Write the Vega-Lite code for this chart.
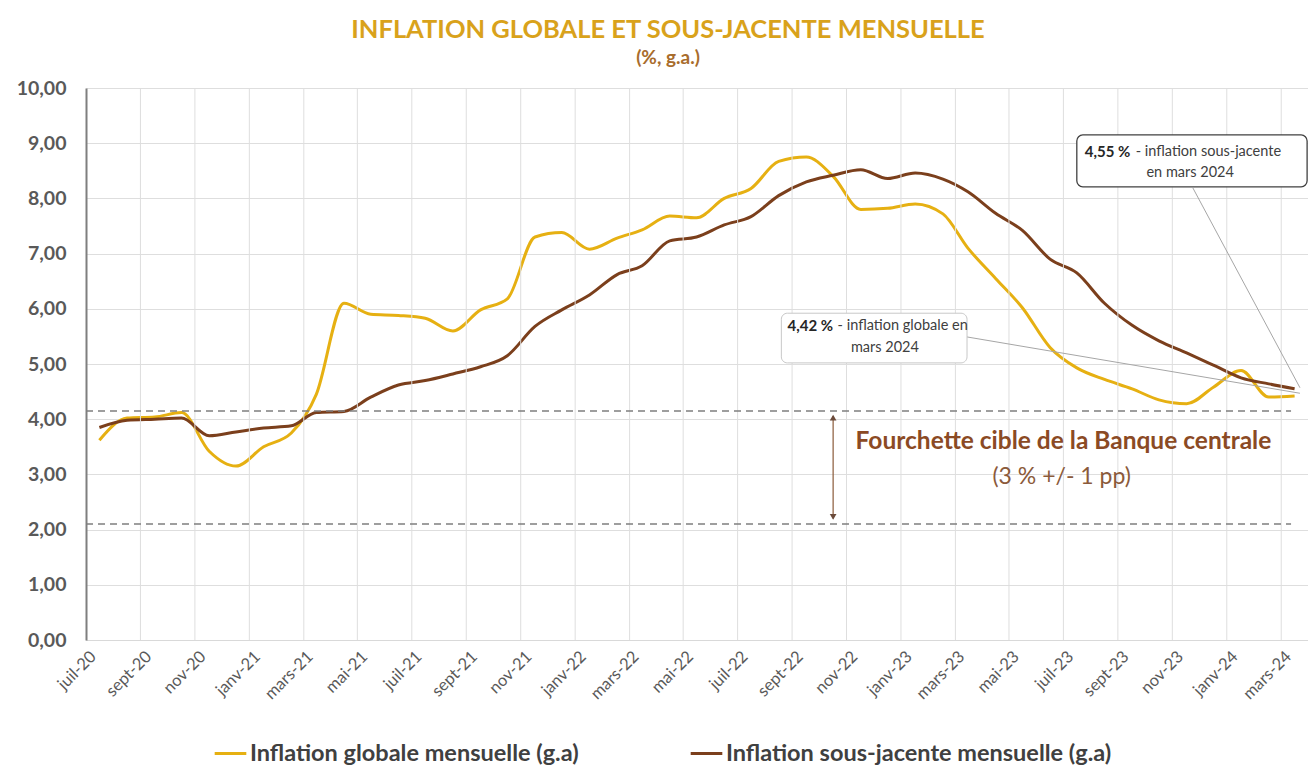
{
  "$schema": "https://vega.github.io/schema/vega-lite/v6.json",
  "width": 1222,
  "height": 552,
  "autosize": {"type": "none"},
  "padding": {"left": 86, "top": 88, "right": 0, "bottom": 129},
  "background": "white",
  "title": {
    "text": "INFLATION GLOBALE ET SOUS-JACENTE MENSUELLE",
    "subtitle": "(%, g.a.)",
    "anchor": "middle",
    "dx": -29,
    "offset": 10,
    "font": "Lato",
    "fontSize": 25.5,
    "fontWeight": "bold",
    "color": "#D9A21B",
    "subtitleFont": "Lato",
    "subtitleFontSize": 19,
    "subtitleFontWeight": "bold",
    "subtitleColor": "#A86C2C",
    "subtitlePadding": 6
  },
  "config": {"view": {"stroke": null}, "font": "Lato"},
  "datasets": {
    "inflation": [
      {"mois": "2020-07-01", "globale": 3.62, "sousjacente": 3.85},
      {"mois": "2020-08-01", "globale": 4.02, "sousjacente": 3.98},
      {"mois": "2020-09-01", "globale": 4.04, "sousjacente": 4.0},
      {"mois": "2020-10-01", "globale": 4.12, "sousjacente": 4.02},
      {"mois": "2020-11-01", "globale": 3.42, "sousjacente": 3.7},
      {"mois": "2020-12-01", "globale": 3.15, "sousjacente": 3.77},
      {"mois": "2021-01-01", "globale": 3.5, "sousjacente": 3.84},
      {"mois": "2021-02-01", "globale": 3.75, "sousjacente": 3.88},
      {"mois": "2021-03-01", "globale": 4.45, "sousjacente": 4.12},
      {"mois": "2021-04-01", "globale": 6.1, "sousjacente": 4.14},
      {"mois": "2021-05-01", "globale": 5.9, "sousjacente": 4.4},
      {"mois": "2021-06-01", "globale": 5.88, "sousjacente": 4.62},
      {"mois": "2021-07-01", "globale": 5.83, "sousjacente": 4.7},
      {"mois": "2021-08-01", "globale": 5.6, "sousjacente": 4.82},
      {"mois": "2021-09-01", "globale": 5.98, "sousjacente": 4.95},
      {"mois": "2021-10-01", "globale": 6.18, "sousjacente": 5.15},
      {"mois": "2021-11-01", "globale": 7.3, "sousjacente": 5.68},
      {"mois": "2021-12-01", "globale": 7.38, "sousjacente": 5.98},
      {"mois": "2022-01-01", "globale": 7.08, "sousjacente": 6.25},
      {"mois": "2022-02-01", "globale": 7.28, "sousjacente": 6.62},
      {"mois": "2022-03-01", "globale": 7.43, "sousjacente": 6.78},
      {"mois": "2022-04-01", "globale": 7.68, "sousjacente": 7.23},
      {"mois": "2022-05-01", "globale": 7.65, "sousjacente": 7.3},
      {"mois": "2022-06-01", "globale": 8.0, "sousjacente": 7.52},
      {"mois": "2022-07-01", "globale": 8.18, "sousjacente": 7.67},
      {"mois": "2022-08-01", "globale": 8.67, "sousjacente": 8.05},
      {"mois": "2022-09-01", "globale": 8.75, "sousjacente": 8.3},
      {"mois": "2022-10-01", "globale": 8.4, "sousjacente": 8.42},
      {"mois": "2022-11-01", "globale": 7.8, "sousjacente": 8.52},
      {"mois": "2022-12-01", "globale": 7.82, "sousjacente": 8.36},
      {"mois": "2023-01-01", "globale": 7.9, "sousjacente": 8.46},
      {"mois": "2023-02-01", "globale": 7.72, "sousjacente": 8.35},
      {"mois": "2023-03-01", "globale": 7.1, "sousjacente": 8.12},
      {"mois": "2023-04-01", "globale": 6.55, "sousjacente": 7.73},
      {"mois": "2023-05-01", "globale": 6.02, "sousjacente": 7.42},
      {"mois": "2023-06-01", "globale": 5.3, "sousjacente": 6.9},
      {"mois": "2023-07-01", "globale": 4.93, "sousjacente": 6.65},
      {"mois": "2023-08-01", "globale": 4.72, "sousjacente": 6.1},
      {"mois": "2023-09-01", "globale": 4.55, "sousjacente": 5.7},
      {"mois": "2023-10-01", "globale": 4.35, "sousjacente": 5.42},
      {"mois": "2023-11-01", "globale": 4.28, "sousjacente": 5.2},
      {"mois": "2023-12-01", "globale": 4.58, "sousjacente": 4.98},
      {"mois": "2024-01-01", "globale": 4.88, "sousjacente": 4.75},
      {"mois": "2024-02-01", "globale": 4.4, "sousjacente": 4.64},
      {"mois": "2024-03-01", "globale": 4.42, "sousjacente": 4.55}
    ],
    "grille": [
      {"mois": "2020-08-16"}, {"mois": "2020-10-16"}, {"mois": "2020-12-16"},
      {"mois": "2021-02-15"}, {"mois": "2021-04-16"}, {"mois": "2021-06-16"},
      {"mois": "2021-08-16"}, {"mois": "2021-10-16"}, {"mois": "2021-12-16"},
      {"mois": "2022-02-15"}, {"mois": "2022-04-16"}, {"mois": "2022-06-16"},
      {"mois": "2022-08-16"}, {"mois": "2022-10-16"}, {"mois": "2022-12-16"},
      {"mois": "2023-02-15"}, {"mois": "2023-04-16"}, {"mois": "2023-06-16"},
      {"mois": "2023-08-16"}, {"mois": "2023-10-16"}, {"mois": "2023-12-16"},
      {"mois": "2024-02-15"}
    ]
  },
  "layer": [
    {
      "data": {"name": "inflation"},
      "transform": [{"fold": ["globale", "sousjacente"], "as": ["serie", "valeur"]}],
      "mark": {"type": "line", "interpolate": "monotone", "strokeWidth": 3},
      "encoding": {
        "x": {"field": "mois", "type": "temporal",
              "scale": {"type": "utc", "domain": [{"year": 2020, "month": 6, "date": 16, "utc": true}, {"year": 2024, "month": 3, "date": 16, "utc": true}]},
              "axis": {"title": null, "grid": false, "ticks": false,
                       "tickCount": {"interval": "month", "step": 2},
                       "labelExpr": "['janv','févr','mars','avr','mai','juin','juil','août','sept','oct','nov','déc'][utcmonth(datum.value)] + '-' + utcFormat(datum.value, '%y')",
                       "labelAngle": -45, "labelFontSize": 16.5, "labelColor": "#595959", "labelFont": "Lato",
                       "labelPadding": 8, "labelOffset": -12, "domainColor": "#D9D9D9", "labelOverlap": false, "zindex": 0}},
        "y": {"field": "valeur", "type": "quantitative",
              "scale": {"domain": [0, 10]},
              "axis": {"title": null, "values": [0, 1, 2, 3, 4, 5, 6, 7, 8, 9, 10],
                       "labelExpr": "replace(format(datum.value, '.2f'), '.', ',')",
                       "grid": true, "gridColor": "#DEDEDE", "ticks": false,
                       "domainColor": "#7F7F7F", "domainWidth": 2,
                       "labelFontSize": 19.5, "labelFontWeight": "bold", "labelColor": "#595959",
                       "labelFont": "Lato", "labelPadding": 20, "zindex": 0}},
        "color": {"field": "serie", "type": "nominal",
                  "scale": {"domain": ["globale", "sousjacente"], "range": ["#E6B012", "#7B3F1C"]},
                  "legend": {"orient": "none", "legendX": 127, "legendY": 648, "direction": "horizontal",
                             "title": null, "symbolType": "stroke", "symbolStrokeWidth": 3, "symbolSize": 1000,
                             "labelFontSize": 23.5, "labelFont": "Lato", "labelFontWeight": "bold", "labelColor": "#404040",
                             "columnPadding": 105, "labelOffset": 2, "labelLimit": 0,
                             "labelExpr": "datum.label == 'globale' ? 'Inflation globale mensuelle (g.a)' : 'Inflation sous-jacente mensuelle (g.a)'"}}
      }
    },
    {
      "data": {"name": "grille"},
      "mark": {"type": "rule", "color": "#DEDEDE", "strokeWidth": 1},
      "encoding": {
        "x": {"field": "mois", "type": "temporal"}
      }
    },
    {
      "data": {"values": [
        {"debut": "2020-06-16", "fin": "2024-02-26", "seuil": 4.15},
        {"debut": "2020-06-16", "fin": "2024-02-26", "seuil": 2.1}
      ]},
      "mark": {"type": "rule", "color": "#7F7F7F", "strokeWidth": 1.5, "strokeDash": [7, 5]},
      "encoding": {
        "x": {"field": "debut", "type": "temporal"},
        "x2": {"field": "fin"},
        "y": {"field": "seuil", "type": "quantitative"}
      }
    },
    {
      "data": {"values": [{"mois": "2022-10-01", "haut": 4.06, "bas": 2.2}]},
      "mark": {"type": "rule", "color": "#8B5A3A", "strokeWidth": 1.2},
      "encoding": {
        "x": {"field": "mois", "type": "temporal"},
        "y": {"field": "haut", "type": "quantitative"},
        "y2": {"field": "bas"}
      }
    },
    {
      "data": {"values": [{"mois": "2022-10-01", "valeur": 4.03}]},
      "mark": {"type": "point", "shape": "triangle-up", "filled": true, "color": "#6B4A3A", "size": 45, "opacity": 1},
      "encoding": {
        "x": {"field": "mois", "type": "temporal"},
        "y": {"field": "valeur", "type": "quantitative"}
      }
    },
    {
      "data": {"values": [{"mois": "2022-10-01", "valeur": 2.23}]},
      "mark": {"type": "point", "shape": "triangle-down", "filled": true, "color": "#6B4A3A", "size": 45, "opacity": 1},
      "encoding": {
        "x": {"field": "mois", "type": "temporal"},
        "y": {"field": "valeur", "type": "quantitative"}
      }
    },
    {
      "data": {"values": [{"mois": "2023-06-16", "valeur": 3.59, "texte": "Fourchette cible de la Banque centrale"}]},
      "mark": {"type": "text", "align": "center", "baseline": "middle", "font": "Lato", "fontSize": 24.5, "fontWeight": "bold", "color": "#8B4A24"},
      "encoding": {
        "x": {"field": "mois", "type": "temporal"},
        "y": {"field": "valeur", "type": "quantitative"},
        "text": {"field": "texte"}
      }
    },
    {
      "data": {"values": [{"mois": "2023-06-14", "valeur": 2.95, "texte": "(3 % +/- 1 pp)"}]},
      "mark": {"type": "text", "align": "center", "baseline": "middle", "font": "Lato", "fontSize": 23, "color": "#8B5A3A"},
      "encoding": {
        "x": {"field": "mois", "type": "temporal"},
        "y": {"field": "valeur", "type": "quantitative"},
        "text": {"field": "texte"}
      }
    },
    {
      "data": {"values": [
        {"x1": "2023-11-08", "y1": 8.19, "x2": "2024-03-07", "y2": 4.57},
        {"x1": "2023-02-28", "y1": 5.49, "x2": "2024-03-07", "y2": 4.47}
      ]},
      "mark": {"type": "rule", "color": "#A6A6A6", "strokeWidth": 1},
      "encoding": {
        "x": {"field": "x1", "type": "temporal"},
        "x2": {"field": "x2"},
        "y": {"field": "y1", "type": "quantitative"},
        "y2": {"field": "y2"}
      }
    },
    {
      "data": {"values": [{"debut": "2023-07-01", "fin": "2024-03-15", "haut": 9.15, "bas": 8.21}]},
      "mark": {"type": "rect", "fill": "white", "stroke": "#404040", "strokeWidth": 1.3, "cornerRadius": 6},
      "encoding": {
        "x": {"field": "debut", "type": "temporal"},
        "x2": {"field": "fin"},
        "y": {"field": "haut", "type": "quantitative"},
        "y2": {"field": "bas"}
      }
    },
    {
      "data": {"values": [{"debut": "2022-08-04", "fin": "2023-02-28", "haut": 5.92, "bas": 5.02}]},
      "mark": {"type": "rect", "fill": "white", "stroke": "#C8C8C8", "strokeWidth": 1, "cornerRadius": 6},
      "encoding": {
        "x": {"field": "debut", "type": "temporal"},
        "x2": {"field": "fin"},
        "y": {"field": "haut", "type": "quantitative"},
        "y2": {"field": "bas"}
      }
    },
    {
      "data": {"values": [
        {"mois": "2023-08-30", "valeur": 8.84, "texte": "4,55 %"},
        {"mois": "2022-10-01", "valeur": 5.69, "texte": "4,42 %"}
      ]},
      "mark": {"type": "text", "align": "right", "baseline": "middle", "font": "Lato", "fontSize": 15, "fontWeight": "bold", "color": "#262626"},
      "encoding": {
        "x": {"field": "mois", "type": "temporal"},
        "y": {"field": "valeur", "type": "quantitative"},
        "text": {"field": "texte"}
      }
    },
    {
      "data": {"values": [
        {"mois": "2023-09-05", "valeur": 8.84, "texte": "- inflation sous-jacente"},
        {"mois": "2022-10-06", "valeur": 5.69, "texte": "- inflation globale en"}
      ]},
      "mark": {"type": "text", "align": "left", "baseline": "middle", "font": "Lato", "fontSize": 14.5, "color": "#404040"},
      "encoding": {
        "x": {"field": "mois", "type": "temporal"},
        "y": {"field": "valeur", "type": "quantitative"},
        "text": {"field": "texte"}
      }
    },
    {
      "data": {"values": [
        {"mois": "2023-11-05", "valeur": 8.46, "texte": "en mars 2024"},
        {"mois": "2022-11-28", "valeur": 5.29, "texte": "mars 2024"}
      ]},
      "mark": {"type": "text", "align": "center", "baseline": "middle", "font": "Lato", "fontSize": 14.5, "color": "#404040"},
      "encoding": {
        "x": {"field": "mois", "type": "temporal"},
        "y": {"field": "valeur", "type": "quantitative"},
        "text": {"field": "texte"}
      }
    }
  ]
}
